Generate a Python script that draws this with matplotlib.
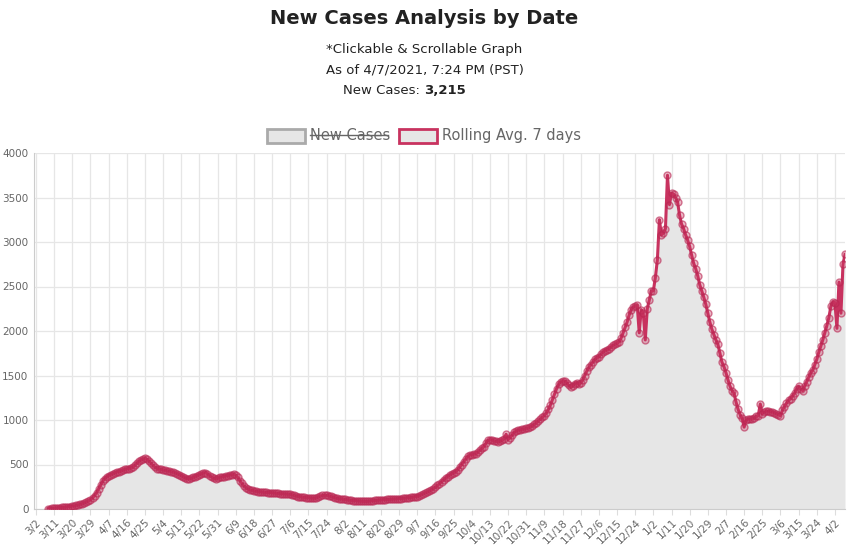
import numpy as np
import matplotlib
matplotlib.use("Agg")
import matplotlib.pyplot as plt
import pandas as pd
from matplotlib.patches import Rectangle
from matplotlib.lines import Line2D

nan = np.nan
start_date = "2020-03-02"
rolling_avg = [
    nan, nan, nan, nan, nan, nan, 3, 5, 8,
    10, 12, 14, 16, 18, 20, 22, 25, 28,
    31, 35, 40, 46, 52, 60, 68, 78, 90,
    105, 125, 150, 185, 225, 270, 310, 340, 360,
    375, 385, 395, 405, 415, 420, 425, 435, 445,
    450, 455, 460, 470, 490, 515, 535, 550, 560,
    570, 560, 540, 515, 490, 470, 455, 450, 445,
    440, 435, 430, 425, 420, 415, 405, 395, 385,
    375, 360, 348, 340, 338, 345, 355, 365, 375,
    385, 395, 405, 410, 395, 375, 360, 345, 340,
    345, 355, 360, 365, 370, 375, 380, 385, 390,
    380, 355, 320, 290, 260, 240, 225, 215, 210,
    205, 200, 195, 192, 190, 188, 186, 185, 184,
    182, 180, 178, 175, 172, 170, 170, 168, 166,
    165, 160, 152, 145, 140, 136, 133, 130, 128,
    126, 124, 122, 120, 125, 135, 145, 152, 155,
    155, 150, 142, 135, 128, 120, 115, 112, 110,
    108, 105, 100, 97, 95, 93, 92, 90, 88,
    86, 85, 85, 87, 90, 93, 96, 98, 100,
    101, 103, 105, 107, 108, 110, 111, 112, 114,
    115, 117, 119, 121, 124, 127, 130, 134, 138,
    140, 150, 160, 170, 180, 190, 200, 215, 230,
    245, 265, 285, 305, 325, 345, 365, 380, 395,
    405, 420, 440, 470, 500, 530, 560, 590, 605,
    610, 615, 620, 640, 660, 680, 700, 740, 770,
    780, 775, 765, 760, 755, 760, 770, 790, 840,
    780, 800, 830, 860, 875, 885, 890, 895, 900,
    905, 910, 920, 935, 950, 970, 990, 1010, 1030,
    1050, 1080, 1120, 1170, 1230, 1290, 1350, 1400, 1425,
    1435, 1440, 1420, 1390, 1370, 1380, 1410, 1420, 1400,
    1420, 1450, 1500, 1550, 1590, 1620, 1650, 1680, 1700,
    1710, 1740, 1760, 1780, 1790, 1800, 1820, 1840, 1850,
    1860, 1880, 1920, 1980, 2040, 2100, 2180, 2240, 2270,
    2280, 2290, 1980, 2240, 2200, 1900, 2250, 2350, 2450,
    2450, 2600, 2800, 3250, 3080, 3100, 3150, 3750, 3420,
    3550, 3540, 3500, 3450, 3300, 3200, 3150, 3080, 3020,
    2950, 2850, 2760, 2700, 2620, 2520, 2450, 2380, 2300,
    2200, 2100, 2020, 1960, 1900, 1850, 1750, 1650, 1600,
    1530, 1450, 1380, 1330, 1300, 1200, 1120, 1060, 1020,
    920, 1000, 1010, 1010, 1015, 1020, 1040, 1050, 1180,
    1070, 1090, 1100, 1100, 1095, 1090, 1080, 1070, 1060,
    1050, 1110, 1150, 1190, 1220, 1240, 1270, 1300, 1350,
    1380, 1350, 1330, 1380, 1430, 1480, 1530, 1560, 1620,
    1680, 1760, 1830, 1900, 1980, 2060, 2150, 2280, 2330,
    2320, 2030, 2550, 2200, 2750, 2860,
]
dates = pd.date_range(start_date, periods=len(rolling_avg), freq="D")
tick_labels = [f"{d.month}/{d.day}" for d in dates]
y_ticks = list(range(0, 4001, 500))

W, H = 849, 548
fig = plt.figure(figsize=(W/100, H/100), dpi=100)
ax = fig.add_axes([34/W, 1-509/H, (845-34)/W, (509-153)/H])
x = np.arange(len(rolling_avg))
y = np.array(rolling_avg, dtype=float)
line_c = "#c8325f"
ax.fill_between(x, 0, y, color="#e6e6e6", zorder=1, lw=0)
ax.plot(x, y, color=line_c, lw=2.2, zorder=3)
ax.plot(x, y, 'o', ms=5, mfc=(0.78, 0.2, 0.37, 0.35), mec=(0.72, 0.15, 0.32, 0.6), mew=1, zorder=4)
ax.set_xlim(-1, len(rolling_avg) - 1)
ax.set_ylim(0, 4000)
ax.set_yticks(y_ticks)
ax.set_xticks(x[::9])
ax.set_xticklabels(tick_labels[::9], rotation=45, ha="right", rotation_mode="anchor", fontsize=7.5, color="#666666")
ax.tick_params(axis="y", labelsize=7.5, labelcolor="#666666", length=0, pad=4)
ax.tick_params(axis="x", length=4, color="#dddddd", pad=2)
ax.grid(True, color="#e6e6e6", lw=0.9, zorder=0)
ax.set_axisbelow(True)
for s in ["top", "right"]:
    ax.spines[s].set_visible(False)
for s in ["left", "bottom"]:
    ax.spines[s].set_color("#cccccc")

fig.text(0.5, 1-19/H, "New Cases Analysis by Date", ha="center", va="center", fontsize=14, fontweight="bold", color="#222222")
fig.text(0.5, 1-49/H, "*Clickable & Scrollable Graph", ha="center", va="center", fontsize=9.5, color="#222222")
fig.text(0.5, 1-70/H, "As of 4/7/2021, 7:24 PM (PST)", ha="center", va="center", fontsize=9.5, color="#222222")
fig.text(0.5, 1-91/H, "New Cases: ", ha="right", va="center", fontsize=9.5, color="#222222")
fig.text(0.5, 1-91/H, "3,215", ha="left", va="center", fontsize=9.5, fontweight="bold", color="#222222")

# legend
fig.patches.append(Rectangle((267/W, 1-143/H), 38/W, 14/H, transform=fig.transFigure,
                             fc="#e6e6e6", ec="#aaaaaa", lw=2))
fig.text(310/W, 1-135/H, "New Cases", ha="left", va="center", fontsize=10.5, color="#666666")
fig.lines.append(Line2D([310/W, 388/W], [1-135/H, 1-135/H], transform=fig.transFigure, color="#666666", lw=1))
fig.patches.append(Rectangle((399/W, 1-143/H), 38/W, 14/H, transform=fig.transFigure,
                             fc="#e6e6e6", ec=line_c, lw=2))
fig.text(442/W, 1-135/H, "Rolling Avg. 7 days", ha="left", va="center", fontsize=10.5, color="#666666")

fig.savefig("out.png", dpi=100)
